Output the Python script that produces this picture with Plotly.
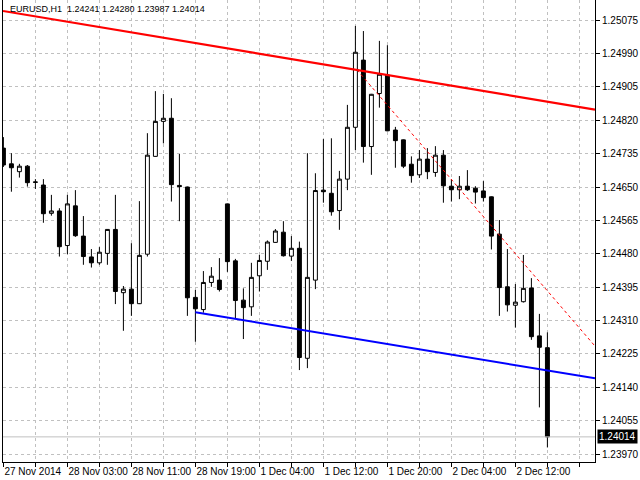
import plotly.graph_objects as go

symbol = "EURUSD,H1"

# hourly bars, 27 Nov 19:00 .. 2 Dec 16:00
opens = [1.24749, 1.24709, 1.24689, 1.24703, 1.24663, 1.24655, 1.24583, 1.24589, 1.24501, 1.24602,
         1.24525, 1.24472, 1.24457, 1.24481, 1.24542, 1.24381, 1.24390, 1.24353, 1.24479, 1.24728,
         1.24817, 1.24825, 1.24654, 1.24650, 1.24369, 1.24338, 1.24407, 1.24413, 1.24607, 1.24462,
         1.24362, 1.24345, 1.24424, 1.24461, 1.24509, 1.24535, 1.24474, 1.24494, 1.24214, 1.24413,
         1.24642, 1.24634, 1.24590, 1.24670, 1.24802, 1.24973, 1.24753, 1.24888, 1.24935, 1.24795,
         1.24770, 1.24708, 1.24681, 1.24721, 1.24687, 1.24731, 1.24652, 1.24643, 1.24652, 1.24647,
         1.24640, 1.24625, 1.24530, 1.24396, 1.24349, 1.24358, 1.24393, 1.24271, 1.24241]
highs = [1.24777, 1.24736, 1.24709, 1.24706, 1.24670, 1.24670, 1.24630, 1.24596, 1.24630, 1.24642,
         1.24576, 1.24492, 1.24497, 1.24543, 1.24630, 1.24398, 1.24507, 1.24614, 1.24787, 1.24894,
         1.24887, 1.24876, 1.24734, 1.24651, 1.24388, 1.24436, 1.24446, 1.24469, 1.24608, 1.24467,
         1.24392, 1.24457, 1.24477, 1.24514, 1.24543, 1.24563, 1.24525, 1.24511, 1.24736, 1.24685,
         1.24772, 1.24774, 1.24691, 1.24859, 1.25060, 1.25047, 1.24887, 1.25022, 1.25011, 1.24803,
         1.24771, 1.24728, 1.24744, 1.24749, 1.24754, 1.24744, 1.24670, 1.24678, 1.24693, 1.24652,
         1.24665, 1.24626, 1.24566, 1.24492, 1.24403, 1.24477, 1.24418, 1.24327, 1.24280]
lows = [1.24701, 1.24638, 1.24674, 1.24651, 1.24645, 1.24559, 1.24577, 1.24473, 1.24479, 1.24523,
        1.24452, 1.24445, 1.24452, 1.24452, 1.24352, 1.24284, 1.24322, 1.24352, 1.24473, 1.24727,
        1.24761, 1.24613, 1.24563, 1.24322, 1.24256, 1.24330, 1.24396, 1.24384, 1.24434, 1.24316,
        1.24263, 1.24322, 1.24384, 1.24439, 1.24508, 1.24473, 1.24462, 1.24184, 1.24189, 1.24390,
        1.24610, 1.24577, 1.24541, 1.24642, 1.24744, 1.24712, 1.24681, 1.24852, 1.24792, 1.24699,
        1.24698, 1.24661, 1.24673, 1.24670, 1.24676, 1.24610, 1.24613, 1.24619, 1.24640, 1.24608,
        1.24613, 1.24491, 1.24322, 1.24333, 1.24292, 1.24356, 1.24261, 1.24089, 1.23987]
closes = [1.24706, 1.24699, 1.24703, 1.24661, 1.24662, 1.24582, 1.24589, 1.24498, 1.24607, 1.24526,
          1.24473, 1.24457, 1.24484, 1.24542, 1.24384, 1.24390, 1.24353, 1.24476, 1.24731, 1.24817,
          1.24825, 1.24656, 1.24651, 1.24368, 1.24340, 1.24407, 1.24423, 1.24389, 1.24460, 1.24361,
          1.24343, 1.24420, 1.24463, 1.24510, 1.24538, 1.24475, 1.24494, 1.24216, 1.24420, 1.24641,
          1.24638, 1.24587, 1.24670, 1.24802, 1.24993, 1.24753, 1.24886, 1.24937, 1.24793, 1.24768,
          1.24703, 1.24679, 1.24721, 1.24689, 1.24731, 1.24653, 1.24643, 1.24652, 1.24643, 1.24637,
          1.24623, 1.24525, 1.24394, 1.24350, 1.24357, 1.24392, 1.24269, 1.24242, 1.24014]

# time labels, one every 8 bars
time_labels = ["27 Nov 2014", "28 Nov 03:00", "28 Nov 11:00", "28 Nov 19:00", "1 Dec 04:00",
               "1 Dec 12:00", "1 Dec 20:00", "2 Dec 04:00", "2 Dec 12:00"]
price_ticks = [1.25075, 1.24990, 1.24905, 1.24820, 1.24735, 1.24650, 1.24565,
               1.24480, 1.24395, 1.24310, 1.24225, 1.24140, 1.24055, 1.23970]

# trend lines (bar index, price)
red_x = [-0.05, 73.95]
red_y = [1.25098, 1.24847]
blue_x = [24, 73.95]
blue_y = [1.24331, 1.24163]
dash_x = [44.2, 73.95]
dash_y = [1.24948, 1.24245]

bars = list(range(len(opens)))
tickvals = list(range(0, 73, 4))
ticktext = []
for i in tickvals:
    if i % 8 == 0 and i // 8 < len(time_labels):
        ticktext.append(time_labels[i // 8])
    else:
        ticktext.append("")

FONT = "Liberation Sans, Arial, sans-serif"

fig = go.Figure()

# current close level
fig.add_trace(go.Scatter(x=[-1, 80], y=[closes[-1], closes[-1]], mode="lines",
                         line=dict(color="#C0C0C0", width=1), hoverinfo="skip", showlegend=False))

fig.add_trace(go.Candlestick(
    x=bars, open=opens, high=highs, low=lows, close=closes,
    increasing=dict(line=dict(color="black", width=1), fillcolor="white"),
    decreasing=dict(line=dict(color="black", width=1), fillcolor="black"),
    whiskerwidth=0, showlegend=False))

fig.add_trace(go.Scatter(x=red_x, y=red_y, mode="lines",
                         line=dict(color="#FF0000", width=2.2), showlegend=False))
fig.add_trace(go.Scatter(x=blue_x, y=blue_y, mode="lines",
                         line=dict(color="#0000FF", width=2), showlegend=False))
fig.add_trace(go.Scatter(x=dash_x, y=dash_y, mode="lines",
                         line=dict(color="#FF0000", width=1, dash="3px,3px"), showlegend=False))

fig.update_layout(
    width=640, height=480,
    margin=dict(l=3, r=45, t=0, b=18),
    paper_bgcolor="white", plot_bgcolor="white",
    font=dict(family=FONT, size=10, color="black"),
    showlegend=False,
    xaxis=dict(
        range=[-0.05, 73.95], rangeslider=dict(visible=False),
        tickmode="array", tickvals=tickvals, ticktext=ticktext, tickangle=0,
        ticks="outside", ticklen=4, tickcolor="black",
        ticklabelposition="outside right",
        showgrid=True, gridcolor="#C0C0C0", griddash="3px,3px", gridwidth=1,
        showline=True, linecolor="black", linewidth=1,
        zeroline=False, fixedrange=True,
    ),
    yaxis=dict(
        side="right", range=[1.23950, 1.25126],
        tickmode="array", tickvals=price_ticks,
        ticktext=["%.5f" % p for p in price_ticks],
        ticks="outside", ticklen=4, tickcolor="black",
        showgrid=True, gridcolor="#C0C0C0", griddash="3px,3px", gridwidth=1,
        showline=True, linecolor="black", linewidth=1, mirror=True,
        zeroline=False, fixedrange=True,
    ),
)

header = "%s\u00a0\u00a0%.5f %.5f %.5f %.5f" % (symbol, opens[-1], highs[-1], lows[-1], closes[-1])
fig.add_annotation(text=header, xref="paper", yref="paper", x=0, y=1,
                   xanchor="left", yanchor="top", xshift=5, yshift=-2,
                   showarrow=False, font=dict(family=FONT, size=9, color="black"))

fig.add_annotation(text="%.5f" % closes[-1], xref="paper", yref="y", x=1, y=closes[-1],
                   xanchor="left", yanchor="middle", xshift=2, showarrow=False,
                   bgcolor="black", borderpad=1, font=dict(family=FONT, size=10, color="white"))

# page has a default 8px body margin; drop it so the figure fills the window
fig.write_html("out.html", config={"displayModeBar": False},
               post_script="document.body.style.margin='0';")
